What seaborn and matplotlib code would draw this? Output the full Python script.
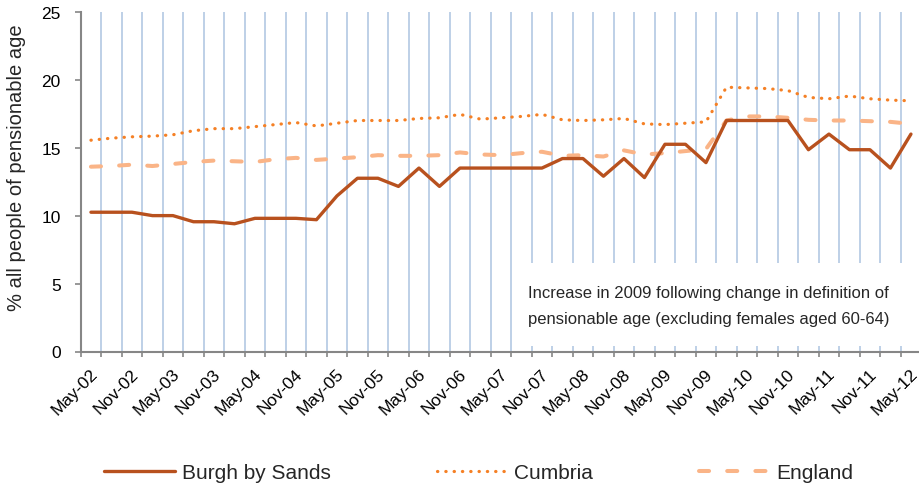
import numpy as np
import pandas as pd
import seaborn as sns
import matplotlib.pyplot as plt
from matplotlib.patches import Rectangle
from matplotlib.transforms import ScaledTranslation

# quarterly data, May-02 .. May-12
quarters = ['May-02', 'Aug-02', 'Nov-02', 'Feb-03', 'May-03', 'Aug-03', 'Nov-03', 'Feb-04',
            'May-04', 'Aug-04', 'Nov-04', 'Feb-05', 'May-05', 'Aug-05', 'Nov-05', 'Feb-06',
            'May-06', 'Aug-06', 'Nov-06', 'Feb-07', 'May-07', 'Aug-07', 'Nov-07', 'Feb-08',
            'May-08', 'Aug-08', 'Nov-08', 'Feb-09', 'May-09', 'Aug-09', 'Nov-09', 'Feb-10',
            'May-10', 'Aug-10', 'Nov-10', 'Feb-11', 'May-11', 'Aug-11', 'Nov-11', 'Feb-12',
            'May-12']

burgh = [10.25, 10.25, 10.25, 10.0, 10.0, 9.55, 9.55, 9.4, 9.8, 9.8, 9.8, 9.7,
         11.45, 12.75, 12.75, 12.15, 13.5, 12.15, 13.5, 13.5, 13.5, 13.5, 13.5,
         14.2, 14.2, 12.9, 14.2, 12.8, 15.25, 15.25, 13.9, 17.0, 17.0, 17.0, 17.0,
         14.85, 16.0, 14.85, 14.85, 13.5, 16.0]

cumbria = [15.55, 15.7, 15.8, 15.85, 15.95, 16.25, 16.4, 16.4, 16.55, 16.7, 16.85,
           16.6, 16.8, 17.0, 17.0, 17.0, 17.15, 17.2, 17.45, 17.1, 17.2, 17.3, 17.45,
           17.05, 17.0, 17.05, 17.15, 16.75, 16.7, 16.8, 16.9, 19.45, 19.4, 19.35,
           19.2, 18.7, 18.6, 18.8, 18.6, 18.5, 18.45]

england = [13.6, 13.65, 13.75, 13.65, 13.8, 13.95, 14.05, 14.0, 13.95, 14.15, 14.25,
           14.1, 14.2, 14.3, 14.45, 14.4, 14.4, 14.45, 14.65, 14.5, 14.45, 14.6, 14.7,
           14.4, 14.45, 14.35, 14.8, 14.5, 14.6, 14.75, 14.9, 17.0, 17.3, 17.3, 17.2,
           17.05, 17.0, 17.0, 16.95, 16.9, 16.75]

note = 'Increase in 2009 following change in definition of\npensionable age (excluding females aged 60-64)'

df = pd.DataFrame({'quarter': quarters, 'Burgh by Sands': burgh,
                   'Cumbria': cumbria, 'England': england})

sns.set_theme(style='white')
plt.rcParams['font.family'] = ['Liberation Sans', 'DejaVu Sans']

grey = '#868686'

fig = plt.figure(figsize=(9.19, 4.85), dpi=100)
ax = fig.add_axes([80.7 / 919, 132.5 / 485, 840.5 / 919, 339.7 / 485])

sns.lineplot(data=df, x='quarter', y='Burgh by Sands', ax=ax, sort=False,
             color='#B8511E', lw=2.4, label='Burgh by Sands', zorder=5)
sns.lineplot(data=df, x='quarter', y='Cumbria', ax=ax, sort=False,
             color='#F58025', lw=2.3, ls=(0, (0.1, 2.5)), dash_capstyle='round',
             label='Cumbria', zorder=4)
sns.lineplot(data=df, x='quarter', y='England', ax=ax, sort=False,
             color='#FAB487', lw=2.9, ls=(0, (2.5, 4.5)), dash_capstyle='round',
             label='England', zorder=3)

n = len(quarters)
ax.set_xlim(-0.5, n - 0.5)
ax.set_ylim(0, 25)
ax.set_yticks(range(0, 26, 5))
ax.set_xticks(range(0, n, 2))
ax.set_xticklabels(quarters[::2])
ax.set_xticks(np.arange(-0.5, n), minor=True)
ax.set_xlabel('')
ax.set_ylabel('')

ax.grid(False)
ax.grid(True, which='minor', axis='x', color='#B9CDE5', lw=1.3, zorder=0)
ax.set_axisbelow(True)

for side in ['top', 'right']:
    ax.spines[side].set_visible(False)
for side in ['left', 'bottom']:
    ax.spines[side].set_color(grey)
    ax.spines[side].set_linewidth(1.5)

ax.tick_params(axis='y', which='major', direction='out', length=4.3, width=1.2,
               color=grey, labelsize=12.5, pad=10, left=True, labelcolor='black')
ax.tick_params(axis='x', which='major', length=0, labelsize=12.5, pad=14, labelcolor='black')
ax.tick_params(axis='x', which='minor', direction='out', length=3.6, width=1.2,
               color=grey, bottom=True)
shift = ScaledTranslation(4 / 100, 0, fig.dpi_scale_trans)
for lab in ax.get_xticklabels():
    lab.set_rotation(45)
    lab.set_ha('right')
    lab.set_va('center')
    lab.set_rotation_mode('anchor')
    lab.set_transform(lab.get_transform() + shift)

# white box behind the note
ax.add_patch(Rectangle((0.513, 0.0165), 0.5, 0.244, transform=ax.transAxes,
                       facecolor='white', edgecolor='none', zorder=1, clip_on=False))
ax.text(0.5326, 0.135, note, transform=ax.transAxes, fontsize=12,
        ha='left', va='center', linespacing=1.9, zorder=6)

fig.text(17 / 919, 0.655, '% all people of pensionable age', rotation=90,
         ha='center', va='center', fontsize=14.5)

handles, labels = ax.get_legend_handles_labels()
ax.get_legend().remove()
fig.legend(handles, labels, loc='center left', bbox_to_anchor=(104 / 919, 0.024),
           ncol=3, frameon=False, fontsize=15, handlelength=3.4, handletextpad=0.32,
           columnspacing=5.1, borderpad=0, borderaxespad=0)

fig.savefig('out.png', dpi=100)
